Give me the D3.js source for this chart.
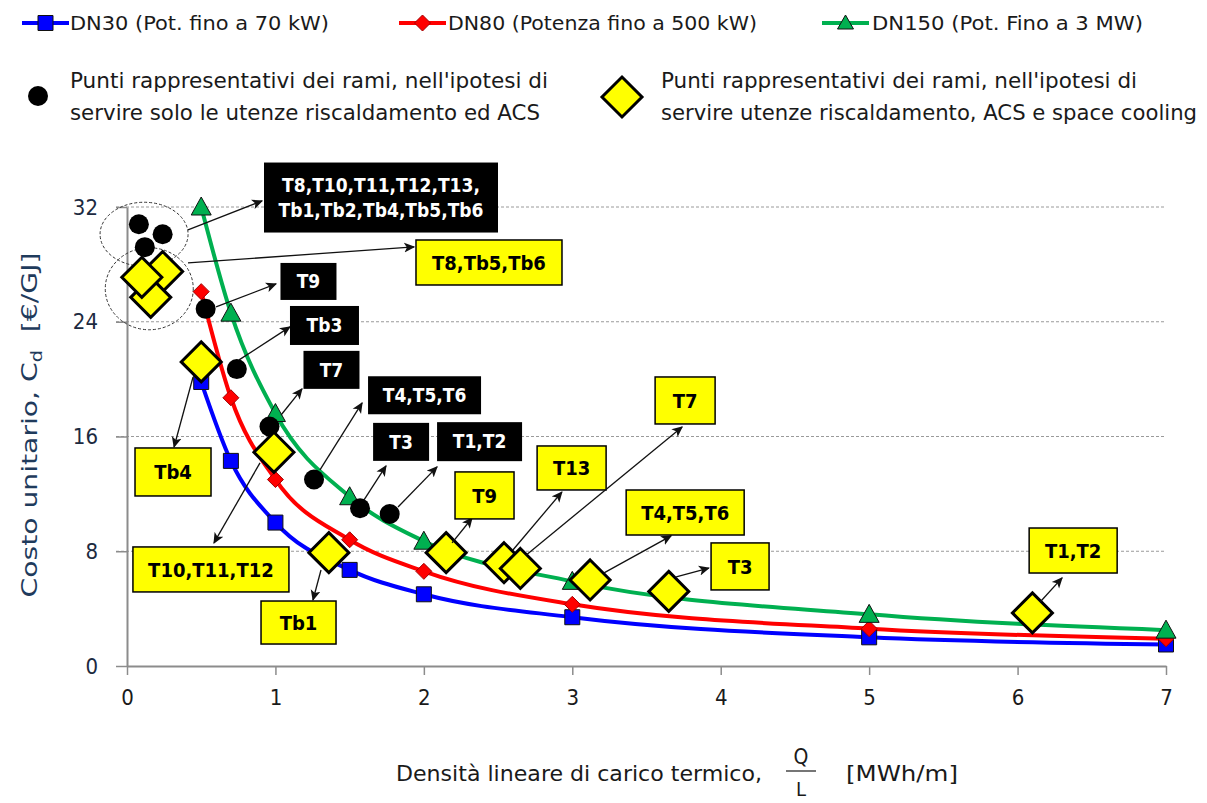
<!DOCTYPE html>
<html>
<head>
<meta charset="utf-8">
<script src="https://cdn.jsdelivr.net/npm/d3@7"></script>
<style>
  body { margin: 0; background: #fff; }
  text { font-family: "Liberation Sans Narrow", "DejaVu Sans Condensed", "Liberation Sans", sans-serif; }
</style>
</head>
<body>
<div id="chart"></div>
<script>
// ---- data ----
var xValues = [0.5, 0.7, 1, 1.5, 2, 3, 5, 7];
var dn30 = [19.8, 14.3, 10.0, 6.7, 5.0, 3.4, 2.0, 1.5];
var dn80 = [26.1, 18.7, 13.0, 8.8, 6.6, 4.3, 2.6, 1.9];
var dn150 = [32.0, 24.6, 17.6, 11.8, 8.7, 5.9, 3.6, 2.5];
var seriesNames = ["DN30 (Pot. fino a 70 kW)", "DN80 (Potenza fino a 500 kW)", "DN150 (Pot. Fino a 3 MW)"];

// rami: heating + ACS only (black dots)
var heatX = [0.08, 0.24, 0.12, 0.53, 0.74, 0.96, 1.26, 1.57, 1.77];
var heatY = [30.8, 30.1, 29.2, 24.9, 20.7, 16.7, 13.0, 11.0, 10.6];
// rami: heating + ACS + space cooling (yellow diamonds)
var coolX = [0.24, 0.16, 0.10, 0.5, 0.99, 1.36, 2.15, 2.54, 2.65, 3.12, 3.65, 6.1];
var coolY = [27.5, 25.7, 27.1, 21.2, 14.9, 7.9, 7.9, 7.2, 6.8, 6.0, 5.2, 3.7];

var yTicks = [0, 8, 16, 24, 32];
var xTicks = [0, 1, 2, 3, 4, 5, 6, 7];
var legendText1 = ["Punti rappresentativi dei rami, nell'ipotesi di", "servire solo le utenze riscaldamento ed ACS"];
var legendText2 = ["Punti rappresentativi dei rami, nell'ipotesi di", "servire utenze riscaldamento, ACS e space cooling"];

// callout labels (position of box and arrow given in data units)
var blackLabels = [
  {lines: ["T8,T10,T11,T12,T13,", "Tb1,Tb2,Tb4,Tb5,Tb6"], box: [0.923, 35.1], w: 234, h: 70, from: [0.411, 30.4], to: [0.91, 32.43]},
  {lines: ["T9"], box: [1.034, 28.1], w: 56, h: 37, from: [0.6, 25.03], to: [1.004, 26.64]},
  {lines: ["Tb3"], box: [1.098, 25.1], w: 69, h: 39, from: [0.755, 21.34], to: [1.098, 23.64]},
  {lines: ["T7"], box: [1.189, 21.97], w: 56, h: 38, from: [1.038, 17.5], to: [1.179, 19.32]},
  {lines: ["T4,T5,T6"], box: [1.624, 20.2], w: 113, h: 38, from: [1.30, 13.67], to: [1.584, 18.34]},
  {lines: ["T3"], box: [1.658, 16.95], w: 56, h: 38, from: [1.597, 11.58], to: [1.745, 13.95]},
  {lines: ["T1,T2"], box: [2.089, 17.0], w: 85, h: 39, from: [1.826, 11.09], to: [2.089, 13.88]}
];
var yellowLabels = [
  {lines: ["T8,Tb5,Tb6"], box: [1.947, 29.7], w: 146, h: 45, from: [0.411, 28.1], to: [1.934, 29.22]},
  {lines: ["Tb4"], box: [0.054, 15.2], w: 76, h: 48, from: [0.445, 20.15], to: [0.317, 15.27]},
  {lines: ["T10,T11,T12"], box: [0.04, 8.3], w: 156, h: 45, from: [0.896, 14.16], to: [0.586, 8.58]},
  {lines: ["Tb1"], box: [0.903, 4.53], w: 75, h: 43, from: [1.307, 6.69], to: [1.253, 4.6]},
  {lines: ["T9"], box: [2.21, 13.53], w: 59, h: 47, from: [2.19, 8.58], to: [2.325, 10.32]},
  {lines: ["T13"], box: [2.763, 15.34], w: 69, h: 44, from: [2.60, 8.09], to: [2.93, 12.13]},
  {lines: ["T7"], box: [3.558, 20.15], w: 60, h: 47, from: [2.69, 7.74], to: [3.74, 16.67]},
  {lines: ["T4,T5,T6"], box: [3.363, 12.27], w: 118, h: 45, from: [3.214, 6.49], to: [3.666, 9.07]},
  {lines: ["T3"], box: [3.935, 8.58], w: 58, h: 47, from: [3.70, 6.21], to: [3.92, 6.83]},
  {lines: ["T1,T2"], box: [6.078, 9.62], w: 88, h: 45, from: [6.152, 4.46], to: [6.30, 6.14]}
];

function makeChart() {
  var svgWidth = 1207;
  var svgHeight = 803;

  var margin = {top: 207, right: 41, bottom: 137, left: 127};
  var width = svgWidth - margin.left - margin.right;
  var height = svgHeight - margin.top - margin.bottom;

  var svg = d3.select("#chart").append("svg")
    .attr("width", svgWidth)
    .attr("height", svgHeight);

  // arrow head
  svg.append("defs").append("marker")
    .attr("id", "arrow")
    .attr("viewBox", "0 -5 10 10")
    .attr("refX", 9).attr("refY", 0)
    .attr("markerWidth", 11).attr("markerHeight", 11)
    .attr("markerUnits", "userSpaceOnUse")
    .attr("orient", "auto")
    .append("path")
    .attr("d", "M0,-4.5L10,0L0,4.5L2.5,0Z")
    .attr("fill", "#111");

  var chartGroup = svg.append("g")
    .attr("transform", `translate(${margin.left}, ${margin.top})`);

  var xScale = d3.scaleLinear().domain([0, 7]).range([0, width]);
  var yScale = d3.scaleLinear().domain([0, 32]).range([height, 0]);

  function diamond(r) { return `M0,${-r}L${r},0L0,${r}L${-r},0Z`; }
  var trianglePath = "M0,-10L10,8L-10,8Z";

  // gridlines
  chartGroup.append("g")
    .selectAll("line")
    .data(yTicks.filter(d => d > 0))
    .enter()
    .append("line")
    .attr("x1", -11).attr("x2", width)
    .attr("y1", d => yScale(d)).attr("y2", d => yScale(d))
    .attr("stroke", "#9a9a9a")
    .attr("stroke-width", 1)
    .attr("stroke-dasharray", "3,2");

  // axes
  var yAxis = d3.axisLeft(yScale).tickValues(yTicks).tickSize(11).tickSizeOuter(0).tickPadding(18)
    .tickFormat(d3.format("d"));
  var xAxis = d3.axisBottom(xScale).tickValues(xTicks).tickSize(9).tickSizeOuter(0).tickPadding(14)
    .tickFormat(d3.format("d"));

  var yAxisGroup = chartGroup.append("g").call(yAxis);
  var xAxisGroup = chartGroup.append("g")
    .attr("transform", `translate(0, ${height})`)
    .call(xAxis);

  [xAxisGroup, yAxisGroup].forEach(function(g) {
    g.select(".domain").attr("stroke", "#8c8c8c").attr("stroke-width", 2);
    g.selectAll(".tick line").attr("stroke", "#8c8c8c").attr("stroke-width", 1.5);
    g.selectAll(".tick text").attr("font-size", "22px").attr("fill", "#1a1a1a")
      .style("font-family", "'Liberation Sans Narrow', 'DejaVu Sans Condensed', sans-serif");
  });
  yAxisGroup.selectAll(".tick text").attr("fill", "#1c2a40");

  // dashed circles round the clusters
  chartGroup.append("ellipse")
    .attr("cx", xScale(0.115)).attr("cy", yScale(30.1))
    .attr("rx", 44).attr("ry", 32)
    .attr("fill", "none").attr("stroke", "#333").attr("stroke-width", 1).attr("stroke-dasharray", "3,2");
  chartGroup.append("ellipse")
    .attr("cx", xScale(0.15)).attr("cy", yScale(26.3))
    .attr("rx", 44).attr("ry", 41)
    .attr("fill", "none").attr("stroke", "#333").attr("stroke-width", 1).attr("stroke-dasharray", "3,2");

  // series
  var series = [
    {name: seriesNames[0], values: dn30, color: "#0000ff", shape: "square"},
    {name: seriesNames[1], values: dn80, color: "#ff0000", shape: "diamond"},
    {name: seriesNames[2], values: dn150, color: "#00b050", shape: "triangle"}
  ];

  var line = d3.line()
    .x(d => xScale(d[0]))
    .y(d => yScale(d[1]))
    .curve(d3.curveMonotoneX);

  function markerPath(shape) {
    if (shape == "square") return "M-7.5,-7.5H7.5V7.5H-7.5Z";
    if (shape == "diamond") return diamond(8);
    return trianglePath;
  }
  function markerStroke(s) {
    return s.shape == "square" ? "#111" : (s.shape == "diamond" ? "#a00000" : "#111");
  }

  series.forEach(function(s) {
    var pts = xValues.map((x, i) => [x, s.values[i]]);
    chartGroup.append("path")
      .datum(pts)
      .attr("d", line)
      .attr("fill", "none")
      .attr("stroke", s.color)
      .attr("stroke-width", 4);
  });
  series.forEach(function(s) {
    var pts = xValues.map((x, i) => [x, s.values[i]]);
    chartGroup.append("g").selectAll("path")
      .data(pts)
      .enter()
      .append("path")
      .attr("transform", d => `translate(${xScale(d[0])}, ${yScale(d[1])})`)
      .attr("d", markerPath(s.shape))
      .attr("fill", s.color)
      .attr("stroke", markerStroke(s))
      .attr("stroke-width", 1);
  });

  // black dots
  chartGroup.append("g").selectAll("circle")
    .data(heatX.map((x, i) => [x, heatY[i]]))
    .enter()
    .append("circle")
    .attr("cx", d => xScale(d[0]))
    .attr("cy", d => yScale(d[1]))
    .attr("r", 10)
    .attr("fill", "#000");

  // yellow diamonds
  chartGroup.append("g").selectAll("path")
    .data(coolX.map((x, i) => [x, coolY[i]]))
    .enter()
    .append("path")
    .attr("transform", d => `translate(${xScale(d[0])}, ${yScale(d[1])})`)
    .attr("d", diamond(20))
    .attr("fill", "#ffff00")
    .attr("stroke", "#000")
    .attr("stroke-width", 3)
    .attr("stroke-linejoin", "miter");

  // callouts
  function drawLabels(list, fill, textColor, fontSize, border) {
    var g = chartGroup.append("g");
    list.forEach(function(d) {
      g.append("line")
        .attr("x1", xScale(d.from[0])).attr("y1", yScale(d.from[1]))
        .attr("x2", xScale(d.to[0])).attr("y2", yScale(d.to[1]))
        .attr("stroke", "#111")
        .attr("stroke-width", 1.3)
        .attr("marker-end", "url(#arrow)");
      var bx = xScale(d.box[0]), by = yScale(d.box[1]);
      g.append("rect")
        .attr("x", bx).attr("y", by)
        .attr("width", d.w).attr("height", d.h)
        .attr("fill", fill)
        .attr("stroke", border ? "#000" : "none")
        .attr("stroke-width", 1.5);
      var lh = fontSize * 1.35;
      var y0 = by + d.h / 2 - (d.lines.length - 1) * lh / 2 + fontSize * 0.36;
      d.lines.forEach(function(t, i) {
        g.append("text")
          .attr("x", bx + d.w / 2)
          .attr("y", y0 + i * lh)
          .attr("text-anchor", "middle")
          .attr("font-size", fontSize + "px")
          .attr("font-weight", "bold")
          .attr("fill", textColor)
          .text(t);
      });
    });
  }
  drawLabels(blackLabels, "#000", "#fff", 19, false);
  drawLabels(yellowLabels, "#ffff00", "#000", 20, true);

  // axis titles
  var xTitle = svg.append("g").attr("fill", "#1a1a1a").attr("font-size", "21px");
  xTitle.append("text").attr("x", 396).attr("y", 781)
    .attr("textLength", 366).attr("lengthAdjust", "spacingAndGlyphs")
    .text("Densità lineare di carico termico,");
  xTitle.append("text").attr("x", 801).attr("y", 764).attr("text-anchor", "middle").text("Q");
  xTitle.append("line").attr("x1", 786).attr("x2", 816).attr("y1", 771).attr("y2", 771)
    .attr("stroke", "#1a1a1a").attr("stroke-width", 1.2);
  xTitle.append("text").attr("x", 801).attr("y", 796).attr("font-size", "20px")
    .attr("text-anchor", "middle").text("L");
  xTitle.append("text").attr("x", 846).attr("y", 781)
    .attr("textLength", 112).attr("lengthAdjust", "spacingAndGlyphs")
    .text("[MWh/m]");

  var yTitle = svg.append("text")
    .attr("transform", "translate(37, 425) rotate(-90)")
    .attr("text-anchor", "middle")
    .attr("font-size", "22px")
    .attr("fill", "#1f3b5c")
    .attr("textLength", 345).attr("lengthAdjust", "spacingAndGlyphs");
  yTitle.append("tspan").text("Costo unitario, C");
  yTitle.append("tspan").attr("font-size", "15px").attr("dy", 5).text("d");
  yTitle.append("tspan").attr("dy", -5).text("\u00a0\u00a0[€/GJ]");

  // legend, first row
  var legendRow = [
    {x: 22, tx: 70, tw: 259},
    {x: 399, tx: 448, tw: 309},
    {x: 822, tx: 872, tw: 271}
  ];
  series.forEach(function(s, i) {
    var l = legendRow[i];
    svg.append("line")
      .attr("x1", l.x).attr("x2", l.x + 47)
      .attr("y1", 23).attr("y2", 23)
      .attr("stroke", s.color).attr("stroke-width", 4);
    svg.append("path")
      .attr("transform", `translate(${l.x + 23.5}, 23)`)
      .attr("d", s.shape == "triangle" ? "M0,-8L8,6L-8,6Z" : markerPath(s.shape))
      .attr("fill", s.color)
      .attr("stroke", markerStroke(s))
      .attr("stroke-width", 1);
    svg.append("text")
      .attr("x", l.tx).attr("y", 30)
      .attr("font-size", "20px").attr("fill", "#1a1a1a")
      .attr("textLength", l.tw).attr("lengthAdjust", "spacingAndGlyphs")
      .text(s.name);
  });

  // legend, second row
  svg.append("circle").attr("cx", 38).attr("cy", 96).attr("r", 10).attr("fill", "#000");
  svg.append("path").attr("transform", "translate(622, 97)")
    .attr("d", diamond(20))
    .attr("fill", "#ffff00").attr("stroke", "#000").attr("stroke-width", 3);

  var legendLines = [
    {x: 70, lines: legendText1, widths: [478, 470]},
    {x: 661, lines: legendText2, widths: [476, 536]}
  ];
  legendLines.forEach(function(l) {
    l.lines.forEach(function(t, i) {
      svg.append("text")
        .attr("x", l.x).attr("y", 88 + i * 32)
        .attr("font-size", "21px").attr("fill", "#1a1a1a")
        .attr("textLength", l.widths[i]).attr("lengthAdjust", "spacingAndGlyphs")
        .text(t);
    });
  });
}

makeChart();
</script>
</body>
</html>
